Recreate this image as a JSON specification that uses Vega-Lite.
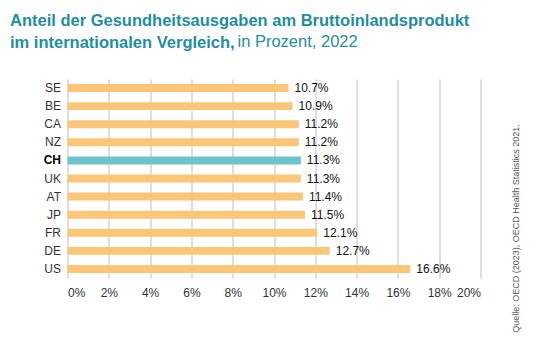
{
  "$schema": "https://vega.github.io/schema/vega-lite/v6.json",
  "autosize": {"type": "none"},
  "padding": {"left": 67.5, "top": 79, "right": 55.5, "bottom": 85},
  "width": 413,
  "height": 199,
  "background": "white",
  "config": {
    "view": {"stroke": null},
    "font": "Liberation Sans"
  },
  "title": {
    "text": ["Anteil der Gesundheitsausgaben am Bruttoinlandsprodukt", "im internationalen Vergleich,"],
    "anchor": "start",
    "frame": "group",
    "dx": -57.5,
    "offset": -18,
    "fontSize": 16.5,
    "fontWeight": "bold",
    "color": "#1f8ea0",
    "lineHeight": 22,
    "font": "Liberation Sans"
  },
  "data": {
    "values": [
      {"country": "SE", "value": 10.7},
      {"country": "BE", "value": 10.9},
      {"country": "CA", "value": 11.2},
      {"country": "NZ", "value": 11.2},
      {"country": "CH", "value": 11.3},
      {"country": "UK", "value": 11.3},
      {"country": "AT", "value": 11.4},
      {"country": "JP", "value": 11.5},
      {"country": "FR", "value": 12.1},
      {"country": "DE", "value": 12.7},
      {"country": "US", "value": 16.6}
    ]
  },
  "transform": [
    {"calculate": "format(datum.value, '.1f') + '%'", "as": "label"}
  ],
  "encoding": {
    "y": {
      "field": "country",
      "type": "nominal",
      "sort": null,
      "scale": {"paddingInner": 0.56, "paddingOuter": 0.28},
      "axis": {
        "domain": false,
        "ticks": false,
        "grid": false,
        "labelFontSize": 12,
        "labelColor": {"condition": {"test": "datum.value == 'CH'", "value": "#000000"}, "value": "#333333"},
        "labelFontWeight": {"condition": {"test": "datum.value == 'CH'", "value": "bold"}, "value": "normal"},
        "labelPadding": 7,
        "title": "in Prozent, 2022",
        "titleAngle": 0,
        "titleAlign": "left",
        "titleBaseline": "alphabetic",
        "titleX": 169.5,
        "titleY": -33,
        "titleFontSize": 16.5,
        "titleFontWeight": "normal",
        "titleColor": "#1f8ea0"
      }
    },
    "x": {
      "field": "value",
      "type": "quantitative",
      "scale": {"domain": [0, 20], "nice": false},
      "axis": {
        "values": [0, 2, 4, 6, 8, 10, 12, 14, 16, 18, 20],
        "labelExpr": "datum.value + '%'",
        "domain": false,
        "ticks": false,
        "grid": true,
        "gridColor": "#c8c8c8",
        "gridWidth": 1.2,
        "labelFontSize": 12,
        "labelColor": "#333333",
        "labelPadding": 9,
        "title": "Quelle: OECD (2023), OECD Health Statistics 2021.",
        "titleAngle": 270,
        "titleAlign": "center",
        "titleBaseline": "middle",
        "titleX": 448,
        "titleY": -50,
        "titleFontSize": 9,
        "titleFontWeight": "normal",
        "titleColor": "#555555"
      }
    }
  },
  "layer": [
    {
      "mark": {"type": "bar"},
      "encoding": {
        "color": {
          "condition": {"test": "datum.country == 'CH'", "value": "#6dc4cd"},
          "value": "#fbc677"
        }
      }
    },
    {
      "mark": {"type": "text", "align": "left", "baseline": "middle", "dx": 6, "fontSize": 12, "color": "#111111"},
      "encoding": {
        "text": {"field": "label"},
        "fontWeight": {
          "condition": {"test": "datum.country == 'CH'", "value": "bold"},
          "value": "normal"
        }
      }
    }
  ]
}
